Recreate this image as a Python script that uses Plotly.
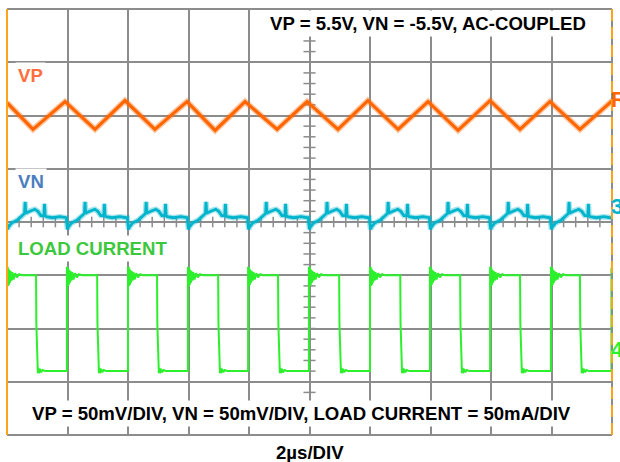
import plotly.graph_objects as go

# ---- scope settings -------------------------------------------------------
US_PER_DIV = 2.0          # horizontal scale
VP_MV_PER_DIV = 50.0
VN_MV_PER_DIV = 50.0
LOAD_MA_PER_DIV = 50.0

VP_OFFSET_DIV = 2.0       # channel ground positions (divisions from centre)
VN_OFFSET_DIV = 0.08
LOAD_OFFSET_DIV = -2.8

# ---- VP ripple: vertex times (us) and AC-coupled values (mV) ---------------
VP_T_US = [0.0, 0.86, 1.92, 2.91, 3.90, 4.89, 5.95, 6.88, 7.87, 8.93, 9.92,
           10.94, 11.93, 12.93, 13.92, 14.91, 15.97, 16.96, 17.95, 18.94,
           19.97, 20.0]
VP_MV = [12, -13, 13, -13, 14, -13, 13, -14, 13, -13, 13,
         -13, 14, -13, 13, -14, 14, -13, 13, -13, 13, 12]

# ---- VN ripple: one switching cycle, repeated at every load step ----------
VN_CYCLE_T_US = [-0.02, 0.0, 0.02, 0.04, 0.15, 0.35, 0.55, 0.58, 0.60, 0.62,
                 0.66, 0.80, 0.92, 1.02, 1.12, 1.22, 1.24, 1.26, 1.30, 1.50,
                 1.75, 1.96]
VN_CYCLE_MV = [0, -6, -11, -9, -5, -2, 3, 4, 15, 4, 5, 7, 8, 6, 2, 2, 13, 2,
               1, 0, 1, 0]
VN_CYCLE_START_US = [0.0, 1.98, 4.0, 5.98, 7.97, 9.98, 12.0, 13.98, 15.97,
                     17.98]

# ---- load current step --------------------------------------------------
LOAD_RISE_US = [0.0, 1.98, 4.0, 5.98, 7.97, 9.98, 12.0, 13.98, 15.97, 17.98,
                19.98]
LOAD_FALL_US = [0.96, 2.98, 4.96, 6.98, 8.96, 10.98, 13.0, 14.98, 16.96,
                18.94]
LOAD_HIGH_MA = 90.0
LOAD_LOW_MA = 0.0
# ringing after a rising edge (time after edge in us, deviation in mA)
RISE_RING_T_US = [0.0, 0.012, 0.024, 0.036, 0.05, 0.065, 0.08, 0.10, 0.12,
                  0.15, 0.18, 0.22, 0.27, 0.33, 0.40, 0.5]
RISE_RING_MA = [7, -11, 7, -10, 6, -9, 5, -7, 4, -5, 3, -4, 2, -2, 1, 0]
# settling after a falling edge
FALL_RING_T_US = [0.06, 0.08, 0.10, 0.13, 0.17, 0.22, 0.3]
FALL_RING_MA = [-2, 3, -2, 2, -1, 1, 0]

# ---- build traces -------------------------------------------------------
vp_y = [VP_OFFSET_DIV + v / VP_MV_PER_DIV for v in VP_MV]

vn_t, vn_y = [], []
for start in VN_CYCLE_START_US:
    for dt, mv in zip(VN_CYCLE_T_US, VN_CYCLE_MV):
        t = start + dt
        if 0.0 <= t <= 20.0:
            vn_t.append(t)
            vn_y.append(VN_OFFSET_DIV + mv / VN_MV_PER_DIV)
vn_t.append(20.0)
vn_y.append(VN_OFFSET_DIV)


def load_div(ma):
    return LOAD_OFFSET_DIV + ma / LOAD_MA_PER_DIV


ld_t, ld_y = [], []
edges = sorted([(t, "rise") for t in LOAD_RISE_US] +
               [(t, "fall") for t in LOAD_FALL_US])
for t0, kind in edges:
    if kind == "rise":
        ld_t.append(t0)
        ld_y.append(load_div(LOAD_LOW_MA))
        for dt, d in zip(RISE_RING_T_US, RISE_RING_MA):
            ld_t.append(t0 + dt)
            ld_y.append(load_div(LOAD_HIGH_MA + d))
    else:
        ld_t += [t0, t0 + 0.01, t0 + 0.05]
        ld_y += [load_div(LOAD_HIGH_MA), load_div(LOAD_HIGH_MA * 0.5),
                 load_div(LOAD_LOW_MA - 2)]
        for dt, d in zip(FALL_RING_T_US, FALL_RING_MA):
            ld_t.append(t0 + dt)
            ld_y.append(load_div(LOAD_LOW_MA + d))
ld_pairs = [(t, y) for t, y in zip(ld_t, ld_y) if 0.0 <= t <= 20.0]
ld_t = [p[0] for p in ld_pairs]
ld_y = [p[1] for p in ld_pairs]

VP_COLOR = "#ff6600"
VN_COLOR = "#00b4cc"
LOAD_COLOR = "#2cf02c"

fig = go.Figure()
fig.add_trace(go.Scatter(x=ld_t, y=ld_y, mode="lines",
                         line=dict(color=LOAD_COLOR, width=2),
                         hoverinfo="skip", showlegend=False))
# soft halo under the analog traces for the scope's trace thickness
fig.add_trace(go.Scatter(x=vn_t, y=vn_y, mode="lines", opacity=0.35,
                         line=dict(color=VN_COLOR, width=5.5),
                         hoverinfo="skip", showlegend=False))
fig.add_trace(go.Scatter(x=vn_t, y=vn_y, mode="lines",
                         line=dict(color=VN_COLOR, width=2.8),
                         hoverinfo="skip", showlegend=False))
fig.add_trace(go.Scatter(x=VP_T_US, y=vp_y, mode="lines", opacity=0.35,
                         line=dict(color=VP_COLOR, width=6),
                         hoverinfo="skip", showlegend=False))
fig.add_trace(go.Scatter(x=VP_T_US, y=vp_y, mode="lines",
                         line=dict(color=VP_COLOR, width=3.2),
                         hoverinfo="skip", showlegend=False))

GRID = "#8c8c8c"
shapes = []
# graticule ticks on the centre axes
for i in range(41):
    y = -4 + i * 0.2
    shapes.append(dict(type="line", xref="x", yref="y", x0=9.8, x1=10.2,
                       y0=y, y1=y, line=dict(color=GRID, width=1.5),
                       layer="between"))
for i in range(51):
    x = i * 0.4
    shapes.append(dict(type="line", xref="x", yref="y", x0=x, x1=x,
                       y0=-0.1, y1=0.1, line=dict(color=GRID, width=1.5),
                       layer="between"))
# frame
shapes.append(dict(type="line", xref="paper", yref="paper", x0=0, x1=1,
                   y0=1, y1=1, line=dict(color=GRID, width=2), layer="between"))
shapes.append(dict(type="line", xref="paper", yref="paper", x0=0, x1=1,
                   y0=0, y1=0, line=dict(color=GRID, width=2), layer="between"))
shapes.append(dict(type="line", xref="paper", yref="paper", x0=0, x1=0,
                   y0=0, y1=1, line=dict(color="#ffa31a", width=2),
                   layer="above"))
shapes.append(dict(type="line", xref="paper", yref="paper", x0=1, x1=1,
                   y0=0, y1=1, line=dict(color=GRID, width=2), layer="above"))
shapes.append(dict(type="line", xref="paper", yref="paper", x0=1, x1=1,
                   y0=0, y1=1, line=dict(color="#ffa31a", width=2, dash="12px,6px"),
                   layer="above"))

FONT = "Liberation Sans, Arial, sans-serif"


def label(text, x, y, color, xanchor="left", size=18.6, bg="white", xref="x",
          yref="y"):
    return dict(text=text, x=x, y=y, xref=xref, yref=yref, xanchor=xanchor,
                yanchor="middle", showarrow=False, bgcolor=bg, borderpad=2,
                font=dict(family=FONT, size=size, color=color, weight="bold"))


annotations = [
    label("VP = 5.5V, VN = -5.5V, AC-COUPLED", 19.25, 3.72, "#000000",
          xanchor="right"),
    label("VP", 0.25, 2.75, "#ff6e3c"),
    label("VN", 0.25, 0.77, "#4a7ebf"),
    label("LOAD CURRENT", 0.25, -0.5, "#3cc83c"),
    label("VP = 50mV/DIV, VN = 50mV/DIV, LOAD CURRENT = 50mA/DIV", 9.75,
          -3.6, "#000000", xanchor="center"),
    label("2\u00b5s/DIV", 0.5, -0.04, "#000000", xanchor="center",
          bg="rgba(0,0,0,0)", xref="paper", yref="paper"),
    label("R", 1.0, 2.3, VP_COLOR, size=22, bg="rgba(0,0,0,0)",
          xref="paper"),
    label("3", 1.0, 0.3, VN_COLOR, size=22, bg="rgba(0,0,0,0)",
          xref="paper"),
    label("4", 1.0, -2.4, LOAD_COLOR, size=22, bg="rgba(0,0,0,0)",
          xref="paper"),
]
for a in annotations[-3:]:
    a["xshift"] = -2
    a["borderpad"] = 0

fig.update_layout(
    width=620, height=462,
    margin=dict(l=7, r=8, t=9, b=27),
    paper_bgcolor="white", plot_bgcolor="white",
    xaxis=dict(range=[0, 20], dtick=US_PER_DIV, tick0=0, showgrid=True,
               gridcolor=GRID, gridwidth=2, showticklabels=False,
               zeroline=False, showline=False, ticks="", fixedrange=True),
    yaxis=dict(range=[-4, 4], dtick=1, tick0=0, showgrid=True,
               gridcolor=GRID, gridwidth=2, showticklabels=False,
               zeroline=False, showline=False, ticks="", fixedrange=True),
    shapes=shapes,
    annotations=annotations,
)

fig.write_html("out.html")
